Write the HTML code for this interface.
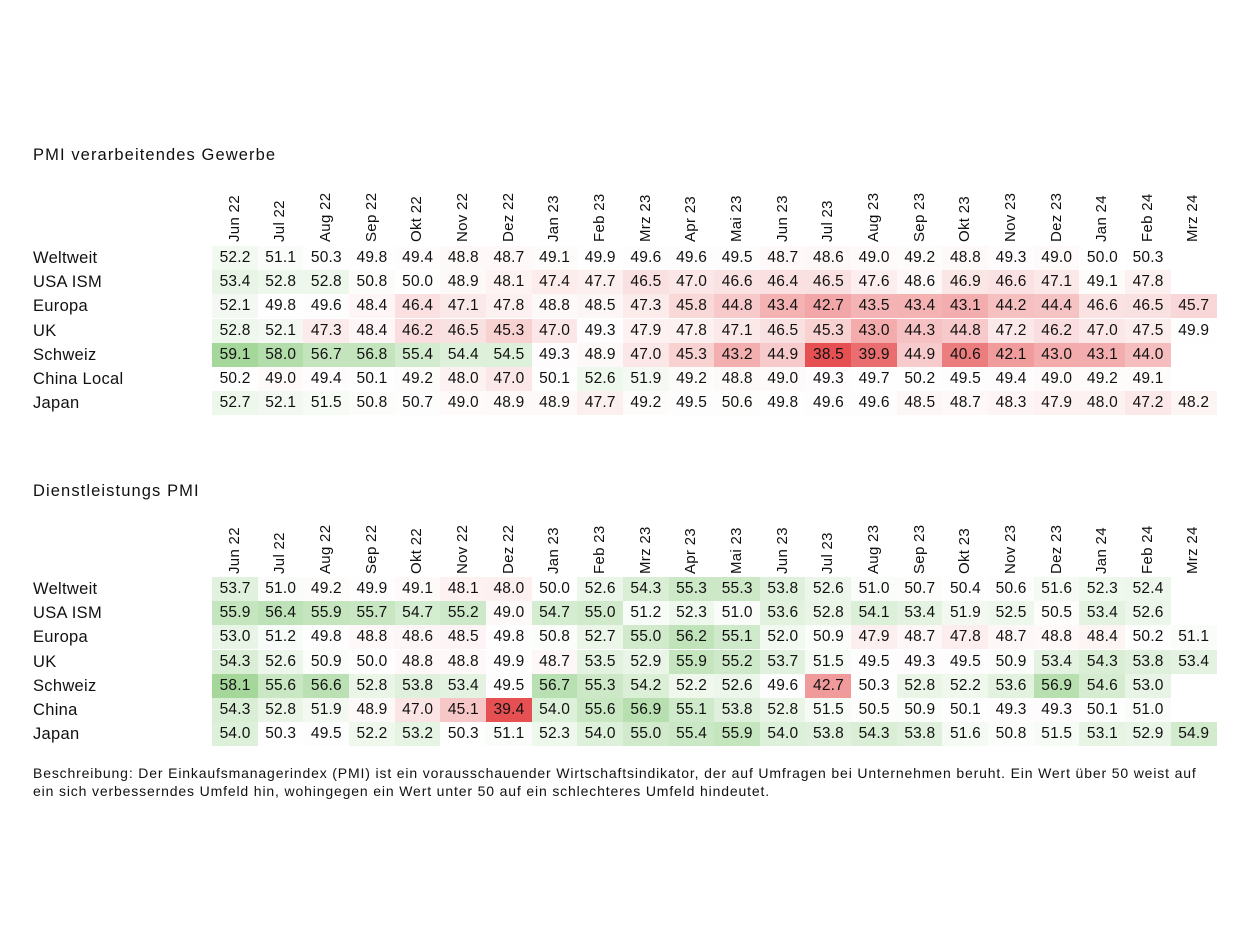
<!DOCTYPE html>
<html><head><meta charset="utf-8">
<style>
body{margin:0;background:#fff;width:1249px;height:949px;overflow:hidden;font-family:"Liberation Sans",sans-serif;color:#111;}
.t{position:absolute;white-space:nowrap;}
.title{font-size:16.5px;letter-spacing:1.1px;}
.rl{font-size:16.5px;letter-spacing:0.3px;}
.cell{position:absolute;font-size:15.5px;text-align:center;line-height:24px;height:24px;letter-spacing:0.2px;}
.hd{position:absolute;font-size:15px;transform-origin:left top;transform:rotate(-90deg);white-space:nowrap;letter-spacing:0.3px;}
.desc{font-size:14px;letter-spacing:0.85px;line-height:18px;left:33px;top:764px;}
</style></head><body>
<div id="root"></div>
<div class="t title" style="left:33px;top:146px">PMI verarbeitendes Gewerbe</div>
<div class="t title" style="left:33px;top:482px">Dienstleistungs PMI</div>
<div class="t desc">Beschreibung: Der Einkaufsmanagerindex (PMI) ist ein vorausschauender Wirtschaftsindikator, der auf Umfragen bei Unternehmen beruht. Ein Wert über 50 weist auf<br>ein sich verbesserndes Umfeld hin, wohingegen ein Wert unter 50 auf ein schlechteres Umfeld hindeutet.</div>
<script>
const months=["Jun 22","Jul 22","Aug 22","Sep 22","Okt 22","Nov 22","Dez 22","Jan 23","Feb 23","Mrz 23","Apr 23","Mai 23","Jun 23","Jul 23","Aug 23","Sep 23","Okt 23","Nov 23","Dez 23","Jan 24","Feb 24","Mrz 24"];
const mfgRegions=["Weltweit","USA ISM","Europa","UK","Schweiz","China Local","Japan"];
const mfgWeltweit=[52.2,51.1,50.3,49.8,49.4,48.8,48.7,49.1,49.9,49.6,49.6,49.5,48.7,48.6,49.0,49.2,48.8,49.3,49.0,50.0,50.3,null];
const mfgUSA=[53.4,52.8,52.8,50.8,50.0,48.9,48.1,47.4,47.7,46.5,47.0,46.6,46.4,46.5,47.6,48.6,46.9,46.6,47.1,49.1,47.8,null];
const mfgEuropa=[52.1,49.8,49.6,48.4,46.4,47.1,47.8,48.8,48.5,47.3,45.8,44.8,43.4,42.7,43.5,43.4,43.1,44.2,44.4,46.6,46.5,45.7];
const mfgUK=[52.8,52.1,47.3,48.4,46.2,46.5,45.3,47.0,49.3,47.9,47.8,47.1,46.5,45.3,43.0,44.3,44.8,47.2,46.2,47.0,47.5,49.9];
const mfgSchweiz=[59.1,58.0,56.7,56.8,55.4,54.4,54.5,49.3,48.9,47.0,45.3,43.2,44.9,38.5,39.9,44.9,40.6,42.1,43.0,43.1,44.0,null];
const mfgChina=[50.2,49.0,49.4,50.1,49.2,48.0,47.0,50.1,52.6,51.9,49.2,48.8,49.0,49.3,49.7,50.2,49.5,49.4,49.0,49.2,49.1,null];
const mfgJapan=[52.7,52.1,51.5,50.8,50.7,49.0,48.9,48.9,47.7,49.2,49.5,50.6,49.8,49.6,49.6,48.5,48.7,48.3,47.9,48.0,47.2,48.2];
const svcRegions=["Weltweit","USA ISM","Europa","UK","Schweiz","China","Japan"];
const svcWeltweit=[53.7,51.0,49.2,49.9,49.1,48.1,48.0,50.0,52.6,54.3,55.3,55.3,53.8,52.6,51.0,50.7,50.4,50.6,51.6,52.3,52.4,null];
const svcUSA=[55.9,56.4,55.9,55.7,54.7,55.2,49.0,54.7,55.0,51.2,52.3,51.0,53.6,52.8,54.1,53.4,51.9,52.5,50.5,53.4,52.6,null];
const svcEuropa=[53.0,51.2,49.8,48.8,48.6,48.5,49.8,50.8,52.7,55.0,56.2,55.1,52.0,50.9,47.9,48.7,47.8,48.7,48.8,48.4,50.2,51.1];
const svcUK=[54.3,52.6,50.9,50.0,48.8,48.8,49.9,48.7,53.5,52.9,55.9,55.2,53.7,51.5,49.5,49.3,49.5,50.9,53.4,54.3,53.8,53.4];
const svcSchweiz=[58.1,55.6,56.6,52.8,53.8,53.4,49.5,56.7,55.3,54.2,52.2,52.6,49.6,42.7,50.3,52.8,52.2,53.6,56.9,54.6,53.0,null];
const svcChina=[54.3,52.8,51.9,48.9,47.0,45.1,39.4,54.0,55.6,56.9,55.1,53.8,52.8,51.5,50.5,50.9,50.1,49.3,49.3,50.1,51.0,null];
const svcJapan=[54.0,50.3,49.5,52.2,53.2,50.3,51.1,52.3,54.0,55.0,55.4,55.9,54.0,53.8,54.3,53.8,51.6,50.8,51.5,53.1,52.9,54.9];

const x0=212,cw=45.65,rh=24.2;
function xPos(i){return x0+i*cw;}
function color(v,mn,mx){
  let r,g,b;
  if(v>=50){const t=Math.pow(Math.min(1,(v-50)/(mx-50)),1.4);r=255+(165-255)*t;g=255+(215-255)*t;b=255+(155-255)*t;}
  else{const t=Math.pow(Math.min(1,(50-v)/(50-mn)),1.5);r=255+(230-255)*t;g=255+(80-255)*t;b=255+(82-255)*t;}
  return `rgb(${r|0},${g|0},${b|0})`;
}
function table(prefix,regions,rows,headBottom,rowTop){
  const all=rows.flat().filter(v=>v!=null);
  const mn=Math.min(...all),mx=Math.max(...all);
  months.forEach((m,i)=>{
    const d=document.createElement('div');
    d.className='hd';d.textContent=m;
    d.style.left=(xPos(i)+cw/2-9)+'px';d.style.top=headBottom+'px';
    
    
    document.body.appendChild(d);
  });
  regions.forEach((r,j)=>{
    const y=rowTop+j*rh;
    const l=document.createElement('div');
    l.className='t rl';l.textContent=r;l.style.left='33px';l.style.top=(y+3)+'px';
    
    
    document.body.appendChild(l);
    rows[j].forEach((v,i)=>{
      if(v==null)return;
      const c=document.createElement('div');
      c.className='cell';c.textContent=v.toFixed(1);
      c.style.left=xPos(i)+'px';c.style.top=y+'px';c.style.width=(cw+0.5)+'px';
      c.style.background=color(v,mn,mx);
      
      
      document.body.appendChild(c);
    });
  });
}
table('mfg',mfgRegions,[mfgWeltweit,mfgUSA,mfgEuropa,mfgUK,mfgSchweiz,mfgChina,mfgJapan],242,246);
table('svc',svcRegions,[svcWeltweit,svcUSA,svcEuropa,svcUK,svcSchweiz,svcChina,svcJapan],574,577);
</script>
</body></html>
